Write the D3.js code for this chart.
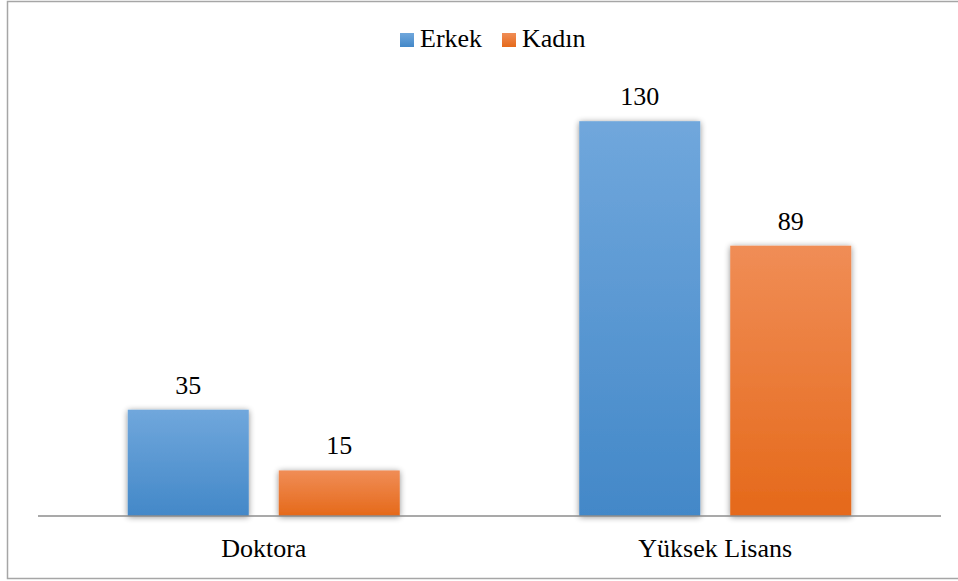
<!DOCTYPE html>
<html>
<head>
<meta charset="utf-8">
<script src="https://cdn.jsdelivr.net/npm/d3@7"></script>
</head>
<body style="margin:0">
<script>
// Chart data
const categories = ["Doktora", "Yüksek Lisans"];
const seriesNames = ["Erkek", "Kadın"];
const erkekValues = [35, 130];
const kadinValues = [15, 89];

const W = 958, H = 581;
const margin = { top: 90, right: 17, bottom: 65, left: 38 };
const plotW = W - margin.left - margin.right;
const plotH = H - margin.top - margin.bottom;

const colors = {
  Erkek: ["#70a7dc", "#4388c8"],
  Kadın: ["#f08d56", "#e5691a"]
};

const svg = d3.select("body").append("svg")
  .attr("width", W)
  .attr("height", H);

const defs = svg.append("defs");
seriesNames.forEach(function(name, i) {
  const grad = defs.append("linearGradient")
    .attr("id", "grad" + i)
    .attr("x1", 0).attr("y1", 0).attr("x2", 0).attr("y2", 1);
  grad.append("stop").attr("offset", "0%").attr("stop-color", colors[name][0]);
  grad.append("stop").attr("offset", "100%").attr("stop-color", colors[name][1]);
});

const shadow = defs.append("filter")
  .attr("id", "shadow")
  .attr("x", "-20%").attr("y", "-20%").attr("width", "140%").attr("height", "140%");
shadow.append("feGaussianBlur").attr("in", "SourceAlpha").attr("stdDeviation", 3).attr("result", "blur");
shadow.append("feOffset").attr("in", "blur").attr("dx", 0).attr("dy", 1).attr("result", "off");
shadow.append("feComponentTransfer").attr("in", "off").attr("result", "soft")
  .append("feFuncA").attr("type", "linear").attr("slope", 0.45);
const merge = shadow.append("feMerge");
merge.append("feMergeNode").attr("in", "soft");
merge.append("feMergeNode").attr("in", "SourceGraphic");

// Outer border
svg.append("rect")
  .attr("x", 7.5).attr("y", 1.5)
  .attr("width", 960).attr("height", 577)
  .attr("fill", "none")
  .attr("stroke", "#a6a6a6")
  .attr("stroke-width", 1.5);

// Scales (in absolute page coordinates)
const groupW = 272;
const x0 = d3.scaleBand().domain(categories).range([margin.left, margin.left + plotW]).padding(0);
const x1 = d3.scaleBand().domain(seriesNames).range([0, groupW]).paddingInner(30 / 151);
const y = d3.scaleLinear().domain([0, 140]).range([margin.top + plotH, margin.top + plotH - 140 * 3.037]);

function barX(cat, name) {
  return x0(cat) + (x0.bandwidth() - groupW) / 2 + x1(name);
}

const bars = [];
categories.forEach(function(c, ci) {
  bars.push({ cat: c, name: "Erkek", i: 0, v: erkekValues[ci] });
  bars.push({ cat: c, name: "Kadın", i: 1, v: kadinValues[ci] });
});

svg.selectAll(".bar")
  .data(bars)
  .enter().append("rect")
  .attr("class", "bar")
  .attr("x", function(d) { return barX(d.cat, d.name); })
  .attr("y", function(d) { return y(d.v); })
  .attr("width", x1.bandwidth())
  .attr("height", function(d) { return y(0) - y(d.v); })
  .attr("fill", function(d) { return "url(#grad" + d.i + ")"; })
  .attr("filter", "url(#shadow)");

// Axis line
svg.append("line")
  .attr("x1", margin.left).attr("x2", margin.left + plotW)
  .attr("y1", y(0)).attr("y2", y(0))
  .attr("stroke", "#8c8c8c")
  .attr("stroke-width", 1.5);

// All texts sit directly in the svg root
const texts = [];
bars.forEach(function(d) {
  texts.push({ t: String(d.v), x: barX(d.cat, d.name) + x1.bandwidth() / 2, y: y(d.v) - 16, a: "middle" });
});
categories.forEach(function(c) {
  texts.push({ t: c, x: x0(c) + x0.bandwidth() / 2, y: y(0) + 41, a: "middle" });
});

// Legend
const legendItems = [
  { name: "Erkek", x: 400, grad: 0 },
  { name: "Kadın", x: 502, grad: 1 }
];
svg.selectAll(".legendKey")
  .data(legendItems)
  .enter().append("rect")
  .attr("class", "legendKey")
  .attr("x", function(d) { return d.x; })
  .attr("y", 33)
  .attr("width", 14).attr("height", 14)
  .attr("fill", function(d) { return "url(#grad" + d.grad + ")"; });
legendItems.forEach(function(d) {
  texts.push({ t: d.name, x: d.x + 20, y: 47, a: "start" });
});

svg.selectAll("text")
  .data(texts)
  .enter().append("text")
  .attr("x", function(d) { return d.x; })
  .attr("y", function(d) { return d.y; })
  .attr("text-anchor", function(d) { return d.a; })
  .style("font-family", function() { return "'Liberation Serif'"; })
  .style("font-size", "26px")
  .text(function(d) { return d.t; });
</script>
</body>
</html>
